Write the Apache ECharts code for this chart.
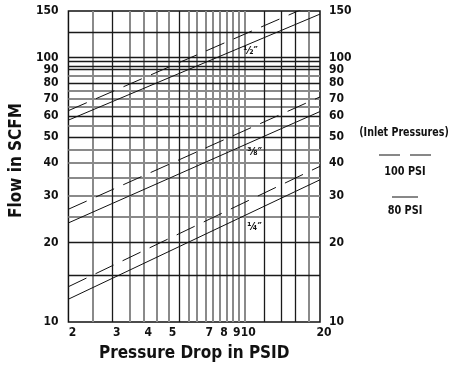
<!DOCTYPE html>
<html>
<head>
<meta charset="utf-8">
<script src="https://cdn.jsdelivr.net/npm/echarts@6/dist/echarts.min.js"></script>
<style>
  html, body { margin: 0; padding: 0; background: #fff; }
  #chart { width: 459px; height: 367px; }
</style>
</head>
<body>
<div id="chart"></div>
<script>
// endpoints of each flow curve (pressure drop in PSID -> flow in SCFM)
const pressureDrop = [2, 20];
const halfInch80 = [58, 146];
const halfInch100 = [63, 163];
const threeEighths80 = [23.7, 62.5];
const threeEighths100 = [26.7, 71];
const quarterInch80 = [12.2, 34.5];
const quarterInch100 = [13.6, 38.8];

// tick labels
const xTickLabels = [2, 3, 4, 5, 7, 8, 9, 10, 20];
const yTickLabels = [10, 20, 30, 40, 50, 60, 70, 80, 90, 100, 150];

// grid lines (dark and light rules as printed)
const xGridDark = [3, 5.5, 12, 14, 16];
const xGridLight = [2.5, 3.5, 4, 4.5, 5, 6, 6.5, 7, 7.5, 8, 8.5, 9, 9.5, 10, 18];
const yGridDark = [15, 20, 50, 60, 80, 90, 93, 97, 100, 125];
const yGridLight = [25, 30, 35, 40, 45, 55, 65, 70, 75, 85];

const FONT = "'DejaVu Sans Condensed', 'Liberation Sans', sans-serif";

function pairs(ys) {
  return pressureDrop.map((x, i) => [x, ys[i]]);
}

function gridLines(xs, ys, color, width) {
  const items = [];
  xs.forEach(v => items.push({ xAxis: v }));
  ys.forEach(v => items.push({ yAxis: v }));
  return {
    type: 'line',
    data: [],
    z: 1,
    silent: true,
    markLine: {
      silent: true,
      animation: false,
      symbol: ['none', 'none'],
      label: { show: false },
      lineStyle: { color: color, width: width, type: 'solid' },
      data: items
    }
  };
}

function curve(ys, dashed, tag) {
  const s = {
    type: 'line',
    data: pairs(ys),
    showSymbol: false,
    z: 5,
    animation: false,
    lineStyle: { color: '#111', width: 1, type: dashed ? [20, 10] : 'solid' }
  };
  if (tag) {
    s.markPoint = {
      symbol: 'rect',
      symbolSize: 0,
      animation: false,
      label: {
        show: true,
        formatter: tag.text,
        color: '#111',
        fontFamily: FONT,
        fontWeight: 'bold',
        fontSize: 11
      },
      data: [{ coord: tag.coord }]
    };
  }
  return s;
}

const axisLabelBase = {
  color: '#111',
  fontFamily: FONT,
  fontWeight: 'bold',
  fontSize: 12
};

const option = {
  animation: false,
  grid: {
    left: 62, right: 139, top: 11, bottom: 40,
    show: true, borderColor: '#111', borderWidth: 1.5
  },
  xAxis: {
    type: 'log',
    logBase: 10,
    min: 2,
    max: 20,
    name: 'Pressure Drop in PSID',
    nameLocation: 'middle',
    nameGap: 23,
    nameTextStyle: { color: '#111', fontFamily: FONT, fontWeight: 'bold', fontSize: 17 },
    axisLine: { show: false },
    axisTick: { show: false },
    splitLine: { show: false },
    axisLabel: Object.assign({ customValues: xTickLabels, margin: 5, padding: [0, 0, 0, 8] }, axisLabelBase)
  },
  yAxis: [
    {
      type: 'log',
      logBase: 10,
      min: 10,
      max: 150,
      position: 'left',
      name: 'Flow in SCFM',
      nameLocation: 'middle',
      nameGap: 33,
      nameTextStyle: { color: '#111', fontFamily: FONT, fontWeight: 'bold', fontSize: 17, padding: [0, 0, 0, 12] },
      axisLine: { show: false },
      axisTick: { show: false },
      splitLine: { show: false },
      axisLabel: Object.assign({ customValues: yTickLabels, margin: 10 }, axisLabelBase)
    },
    {
      type: 'log',
      logBase: 10,
      min: 10,
      max: 150,
      position: 'right',
      axisLine: { show: false },
      axisTick: { show: false },
      splitLine: { show: false },
      axisLabel: Object.assign({ customValues: yTickLabels, margin: 9 }, axisLabelBase)
    }
  ],
  series: [
    gridLines(xGridLight, yGridLight, '#8a8a8a', 2),
    gridLines(xGridDark, yGridDark, '#1a1a1a', 1.3),
    curve(halfInch80, false, { text: '½″', coord: [10.6, 106] }),
    curve(halfInch100, true),
    curve(threeEighths80, false, { text: '³⁄₈″', coord: [11, 44] }),
    curve(threeEighths100, true),
    curve(quarterInch80, false, { text: '¼″', coord: [11, 22.8] }),
    curve(quarterInch100, true)
  ],
  graphic: [
    {
      type: 'text', x: 404, y: 133, scaleX: 0.88,
      style: { text: '(Inlet Pressures)', fill: '#111', font: 'bold 12px ' + FONT, textAlign: 'center', textVerticalAlign: 'middle' }
    },
    { type: 'line', shape: { x1: 379, y1: 155, x2: 400, y2: 155 }, style: { stroke: '#111', lineWidth: 1 } },
    { type: 'line', shape: { x1: 410, y1: 155, x2: 431, y2: 155 }, style: { stroke: '#111', lineWidth: 1 } },
    {
      type: 'text', x: 405, y: 172, scaleX: 0.9,
      style: { text: '100 PSI', fill: '#111', font: 'bold 12px ' + FONT, textAlign: 'center', textVerticalAlign: 'middle' }
    },
    { type: 'line', shape: { x1: 392, y1: 197, x2: 418, y2: 197 }, style: { stroke: '#111', lineWidth: 1 } },
    {
      type: 'text', x: 405, y: 211, scaleX: 0.9,
      style: { text: '80 PSI', fill: '#111', font: 'bold 12px ' + FONT, textAlign: 'center', textVerticalAlign: 'middle' }
    }
  ]
};

const chart = echarts.init(document.getElementById('chart'), null, { renderer: 'canvas' });
chart.setOption(option);
</script>
</body>
</html>
